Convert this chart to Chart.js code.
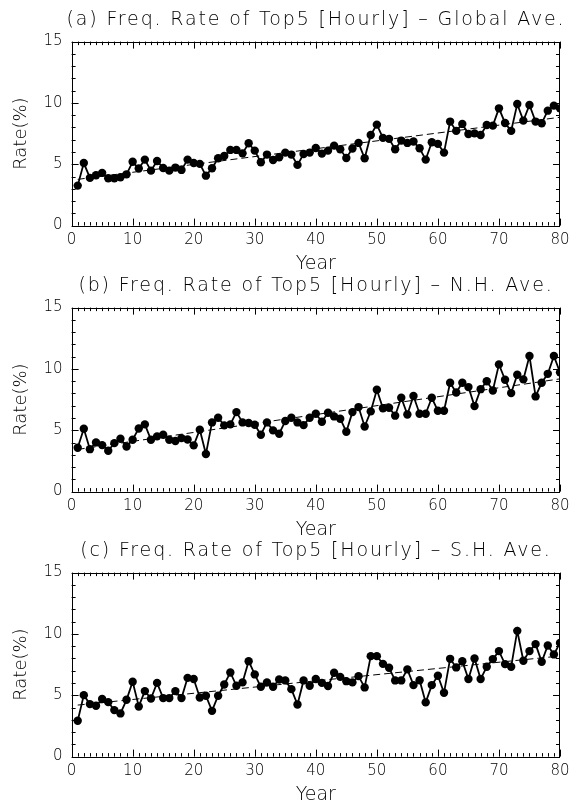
<!DOCTYPE html>
<html>
<head>
<meta charset="utf-8">
<script src="https://cdn.jsdelivr.net/npm/chart.js@4.4.1/dist/chart.umd.min.js"></script>
<style>
  html, body { margin: 0; padding: 0; background: #fff; }
  body { width: 576px; height: 807px; position: relative; overflow: hidden; }
  .panel { position: absolute; left: 0; width: 576px; height: 280px; }
  canvas { display: block; }
  .ptitle {
    position: absolute; left: 16px; width: 600px; height: 22px; line-height: 22px;
    text-align: center; white-space: nowrap; color: #000;
    font-family: 'DejaVu Sans', 'Liberation Sans', sans-serif; font-size: 19px; font-weight: 200;
    letter-spacing: 1.85px; z-index: 2;
  }
</style>
</head>
<body>
<div class="panel" style="top:0px"><canvas id="cA" width="576" height="280"></canvas></div>
<div class="panel" style="top:266px"><canvas id="cB" width="576" height="280"></canvas></div>
<div class="panel" style="top:531px"><canvas id="cC" width="576" height="280"></canvas></div>
<div class="ptitle" id="tA" style="top:7px"></div>
<div class="ptitle" id="tB" style="top:273px"></div>
<div class="ptitle" id="tC" style="top:538px"></div>
<script>
// ---------- data ----------
const years = Array.from({length: 80}, (_, i) => i + 1);

const panelTitles = [
  "(a) Freq. Rate of Top5 [Hourly] \u2013 Global Ave.",
  "(b) Freq. Rate of Top5 [Hourly] \u2013 N.H. Ave.",
  "(c) Freq. Rate of Top5 [Hourly] \u2013 S.H. Ave."
];

const rateGlobal = [
  3.26, 5.10, 3.89, 4.10, 4.30, 3.86, 3.86, 3.94, 4.18, 5.20,
  4.65, 5.38, 4.48, 5.27, 4.70, 4.48, 4.73, 4.54, 5.38, 5.10,
  5.03, 4.07, 4.67, 5.49, 5.68, 6.17, 6.17, 5.89, 6.71, 6.11,
  5.16, 5.79, 5.35, 5.57, 5.95, 5.79, 4.95, 5.84, 5.95, 6.33,
  5.87, 6.11, 6.52, 6.22, 5.51, 6.28, 6.74, 5.49, 7.39, 8.23,
  7.15, 7.07, 6.22, 6.93, 6.74, 6.85, 6.30, 5.38, 6.79, 6.66,
  5.95, 8.48, 7.72, 8.29, 7.47, 7.52, 7.39, 8.20, 8.15, 9.56,
  8.37, 7.72, 9.91, 8.56, 9.83, 8.48, 8.34, 9.37, 9.78, 9.56
];

const rateNH = [
  3.58, 5.13, 3.46, 4.01, 3.79, 3.33, 3.95, 4.31, 3.68, 4.23,
  5.15, 5.48, 4.23, 4.50, 4.64, 4.23, 4.12, 4.36, 4.25, 3.77,
  5.04, 3.06, 5.64, 6.02, 5.40, 5.48, 6.48, 5.64, 5.59, 5.45,
  4.64, 5.64, 4.99, 4.72, 5.75, 6.02, 5.64, 5.42, 6.02, 6.35,
  5.70, 6.43, 6.13, 5.94, 4.88, 6.48, 6.89, 5.31, 6.54, 8.30,
  6.80, 6.84, 6.19, 7.65, 6.29, 7.79, 6.35, 6.35, 7.65, 6.59,
  6.59, 8.87, 8.08, 8.87, 8.52, 6.97, 8.35, 9.00, 8.24, 10.37,
  9.12, 8.03, 9.53, 9.15, 11.05, 7.76, 8.87, 9.60, 11.05, 9.72
];

const rateSH = [
  2.92, 5.01, 4.28, 4.14, 4.69, 4.44, 3.79, 3.52, 4.63, 6.10,
  4.09, 5.34, 4.74, 6.01, 4.77, 4.77, 5.34, 4.77, 6.42, 6.32,
  4.82, 4.96, 3.73, 4.96, 5.88, 6.86, 5.77, 6.05, 7.78, 6.70,
  5.69, 6.05, 5.69, 6.29, 6.21, 5.50, 4.25, 6.21, 5.77, 6.32,
  6.01, 5.75, 6.83, 6.50, 6.15, 6.05, 6.56, 5.64, 8.19, 8.19,
  7.56, 7.24, 6.21, 6.21, 7.11, 5.83, 6.23, 4.42, 5.83, 6.59,
  5.20, 7.97, 7.27, 7.78, 6.32, 8.00, 6.32, 7.32, 7.95, 8.60,
  7.54, 7.32, 10.25, 7.81, 8.60, 9.17, 7.73, 9.06, 8.33, 9.27
];

// dashed trend lines: values at the first and last year
const trendYears  = [1, 80];
const trendGlobal = [3.77, 8.83];
const trendNH     = [3.44, 9.19];
const trendSH     = [4.20, 8.20];

const xTicks = [0, 10, 20, 30, 40, 50, 60, 70, 80];
const yTicks = [0, 5, 10, 15];

// ---------- drawing ----------
const FONT = "'DejaVu Sans', 'Liberation Sans', sans-serif";

const frameTicks = {
  id: 'frameTicks',
  afterDatasetsDraw(chart) {
    const {ctx, chartArea: {left, right, top, bottom}, scales: {x, y}} = chart;
    ctx.save();
    ctx.strokeStyle = '#000';
    ctx.lineWidth = 1;
    ctx.strokeRect(Math.round(left) + 0.5, Math.round(top) + 0.5,
                   Math.round(right - left) - 1, Math.round(bottom - top));
    ctx.beginPath();
    for (let v = x.min; v <= x.max; v++) {
      const px = Math.round(x.getPixelForValue(v)) + 0.5;
      const len = (v % 10 === 0) ? 7 : 3.5;
      ctx.moveTo(px, bottom); ctx.lineTo(px, bottom - len);
      ctx.moveTo(px, top);    ctx.lineTo(px, top + len);
    }
    for (let v = y.min; v <= y.max; v++) {
      const py = Math.round(y.getPixelForValue(v)) + 0.5;
      const len = (v % 5 === 0) ? 7 : 4;
      ctx.moveTo(left, py);  ctx.lineTo(left + len, py);
      ctx.moveTo(right, py); ctx.lineTo(right - len, py);
    }
    ctx.stroke();
    ctx.restore();
  }
};

function makeChart(id, values, trend) {
  const points = years.map((yr, i) => ({x: yr, y: values[i]}));
  const trendPts = trendYears.map((yr, i) => ({x: yr, y: trend[i]}));
  return new Chart(document.getElementById(id), {
    type: 'line',
    data: {
      datasets: [
        {
          data: trendPts,
          borderColor: '#000',
          borderWidth: 1,
          borderDash: [7, 4],
          pointRadius: 0,
          fill: false,
          tension: 0
        },
        {
          data: points,
          borderColor: '#000',
          backgroundColor: '#000',
          borderWidth: 1.8,
          pointRadius: 4.2,
          pointBackgroundColor: '#000',
          pointBorderColor: '#000',
          pointBorderWidth: 0,
          fill: false,
          tension: 0
        }
      ]
    },
    options: {
      responsive: false,
      animation: false,
      devicePixelRatio: 1,
      layout: { padding: { left: 0, right: 16, top: 41.6, bottom: 0 } },
      plugins: {
        legend: { display: false },
        tooltip: { enabled: false },
        title: { display: false }
      },
      scales: {
        x: {
          type: 'linear',
          min: 0, max: 80,
          afterBuildTicks: (s) => { s.ticks = xTicks.map(v => ({value: v})); },
          grid: { display: false, drawTicks: false },
          border: { display: false },
          ticks: { color: '#000', font: { family: FONT, size: 15, weight: '200' }, padding: 6, maxRotation: 0, autoSkip: false },
          title: { display: true, text: 'Year', color: '#000', font: { family: FONT, size: 19, weight: '200' }, padding: { top: 0, bottom: 5 } },
          afterFit: (s) => { s.height = 280 - 225.6; }
        },
        y: {
          type: 'linear',
          min: 0, max: 15,
          afterBuildTicks: (s) => { s.ticks = yTicks.map(v => ({value: v})); },
          grid: { display: false, drawTicks: false },
          border: { display: false },
          ticks: { color: '#000', font: { family: FONT, size: 15, weight: '200' }, padding: 9 },
          title: { display: true, text: 'Rate(%)', color: '#000', font: { family: FONT, size: 18, weight: '200' }, padding: { top: 11, bottom: 0 } },
          afterFit: (s) => { s.width = 71.6; }
        }
      }
    },
    plugins: [frameTicks]
  });
}

document.getElementById('tA').textContent = panelTitles[0];
document.getElementById('tB').textContent = panelTitles[1];
document.getElementById('tC').textContent = panelTitles[2];

makeChart('cA', rateGlobal, trendGlobal);
makeChart('cB', rateNH, trendNH);
makeChart('cC', rateSH, trendSH);
</script>
</body>
</html>
